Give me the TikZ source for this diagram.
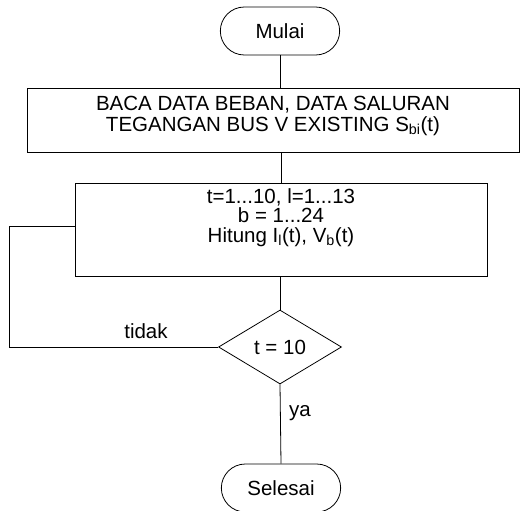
\documentclass[tikz,border=0pt]{standalone}
\usepackage{fontspec}
\setmainfont{Liberation Sans}
\usetikzlibrary{shapes.geometric, shapes.misc}
\tikzstyle{terminal} = [rounded rectangle, minimum width=126pt, minimum height=48pt, text centered, draw=black, line width=0.8pt]
\tikzstyle{process} = [rectangle, text centered, align=center, draw=black, line width=0.8pt]
\tikzstyle{decision} = [diamond, aspect=1.66, inner sep=0pt, minimum width=123pt, minimum height=74pt, text centered, draw=black, line width=0.8pt]
\tikzstyle{line} = [line width=0.8pt]

\begin{document}
\begin{tikzpicture}[x=1pt, y=1pt, yscale=-1, font=\fontsize{20.5}{19.5}\selectfont]
\useasboundingbox (0, 0) rectangle (522, 511);

\node at (280, 31) (mulai) [terminal] {Mulai};
\node at (273, 120) (baca) [process, minimum width=492pt, minimum height=64pt, text depth=12pt] {BACA DATA BEBAN, DATA SALURAN \\[1pt] TEGANGAN BUS V EXISTING S\textsubscript{bi}(t)};
\node at (281, 229.5) (hitung) [process, minimum width=412pt, minimum height=93pt, text depth=28pt] {t=1...10, l=1...13 \\ b = 1...24 \\ Hitung I\textsubscript{l}(t), V\textsubscript{b}(t)};
\node at (280, 347) (cek) [decision] {t = 10};
\node at (281, 488) (selesai) [terminal] {Selesai};

\coordinate (kiri) at (9, 226);

\draw[line] (mulai.south) -- (mulai.south |- baca.north);
\draw[line] (baca.south -| hitung.north) -- (hitung.north);
\draw[line] (hitung.south -| cek.north) -- (cek.north);
\draw[line] (cek.south) -- (selesai.north);
\draw[line] (cek.west) -| (kiri) -- (kiri -| hitung.west);

\node at (146, 331) (tidak) {tidak};
\node at (300, 413) (ya) {ya};

\end{tikzpicture}
\end{document}
